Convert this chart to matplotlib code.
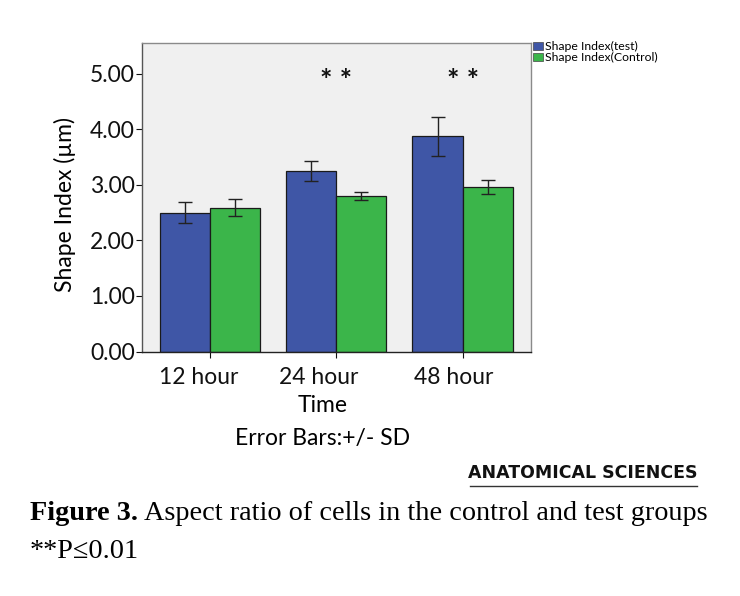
import matplotlib
matplotlib.use("Agg")
import matplotlib.pyplot as plt
import matplotlib.transforms as mtransforms
import numpy as np

categories = ["12 hour", "24 hour", "48 hour"]
test_mean = [2.50, 3.24, 3.87]
test_sd = [0.19, 0.18, 0.35]
ctrl_mean = [2.59, 2.80, 2.96]
ctrl_sd = [0.15, 0.07, 0.13]
yticks = [0, 1, 2, 3, 4, 5]
series_names = ["Shape Index(test)", "Shape Index(Control)"]
sig_marks = ["", "* *", "* *"]

W, H = 740, 596
fig = plt.figure(figsize=(W / 100, H / 100), dpi=100)
fig.patch.set_facecolor("white")

def fx(px):
    return px / W

def fy(py):
    return 1 - py / H

sans = ["Lato", "DejaVu Sans"]
ax = fig.add_axes([fx(141.7), fy(351.5), fx(531) - fx(141.7), fy(42.5) - fy(351.5)])
ax.set_facecolor("#F0F0F0")

x = np.arange(len(categories))
bw = 0.397
blue = "#3F56A6"
green = "#3BB54A"
ax.bar(x - bw / 2, test_mean, bw, color=blue, edgecolor="#1a1a1a", linewidth=0.9, zorder=2)
ax.bar(x + bw / 2, ctrl_mean, bw, color=green, edgecolor="#1a1a1a", linewidth=0.9, zorder=2)
ax.errorbar(x - bw / 2, test_mean, yerr=test_sd, fmt="none", ecolor="#222222",
            elinewidth=1.0, capsize=4.8, capthick=1.0, zorder=3)
ax.errorbar(x + bw / 2, ctrl_mean, yerr=ctrl_sd, fmt="none", ecolor="#222222",
            elinewidth=1.0, capsize=4.8, capthick=1.0, zorder=3)

for xi, s in zip(x, sig_marks):
    if s:
        ax.text(xi, 4.87, s, ha="center", va="center", fontsize=21,
                fontweight="bold", family=sans, color="#111111")

ax.set_xlim(-0.542, 2.542)
ax.set_ylim(0, 5.56)
ax.set_yticks(yticks)
ax.set_yticklabels([f"{v:.2f}" for v in yticks], family=sans, fontsize=16.5)
ax.set_xticks(x)
ax.set_xticklabels(categories, family=sans, fontsize=16.5)
ax.tick_params(axis="y", direction="out", length=4, width=0.8, pad=1, colors="#111111")
ax.tick_params(axis="x", direction="out", length=4, width=0.8, pad=7, colors="#111111")
label_shift_px = [-11, -18, -9]
for lab, dx in zip(ax.get_xticklabels(), label_shift_px):
    lab.set_transform(lab.get_transform() + mtransforms.ScaledTranslation(dx / 100, 0, fig.dpi_scale_trans))

for side in ["top", "right"]:
    ax.spines[side].set_color("#8a8a8a")
    ax.spines[side].set_linewidth(1.0)
ax.spines["left"].set_color("#555555")
ax.spines["bottom"].set_color("#222222")
ax.spines["left"].set_linewidth(1.0)
ax.spines["bottom"].set_linewidth(1.0)

fig.text(fx(65), fy(204), "Shape Index (µm)", rotation=90, ha="center", va="center",
         family=sans, fontsize=16.5)
fig.text(fx(323), fy(405), "Time", ha="center", va="center", family=sans, fontsize=16.5)
fig.text(fx(322.5), fy(438), "Error Bars:+/- SD", ha="center", va="center", family=sans, fontsize=16.5)

# legend
from matplotlib.patches import Rectangle
for i, (name, col) in enumerate(zip(series_names, [blue, green])):
    yc = 46 + i * 11
    fig.patches.append(Rectangle((fx(533), fy(yc + 4)), fx(10), fy(0) - fy(8),
                                 transform=fig.transFigure, facecolor=col,
                                 edgecolor="#444444", linewidth=0.5))
    fig.text(fx(545), fy(yc), name, ha="left", va="center", family=sans, fontsize=8.8)

# publisher mark
fig.text(fx(697), fy(473), "ANATOMICAL SCIENCES", ha="right", va="center",
         family=["DejaVu Sans"], fontsize=12.5, fontweight="bold", color="#111111")
fig.add_artist(plt.Line2D([fx(470), fx(697)], [fy(486), fy(486)], color="#333333", linewidth=1))

serif = ["Liberation Serif", "DejaVu Serif"]
t1 = fig.text(fx(30), fy(514), "Figure 3.", ha="left", va="center", family=serif,
              fontsize=20.3, fontweight="bold")
fig.canvas.draw()
bb = t1.get_window_extent()
fig.text((bb.x1 + 6) / W, fy(514), "Aspect ratio of cells in the control and test groups",
         ha="left", va="center", family=serif, fontsize=20.3)
fig.text(fx(30), fy(551), "**P≤0.01", ha="left", va="center", family=serif, fontsize=20.3)

fig.savefig("out.png", dpi=100)
